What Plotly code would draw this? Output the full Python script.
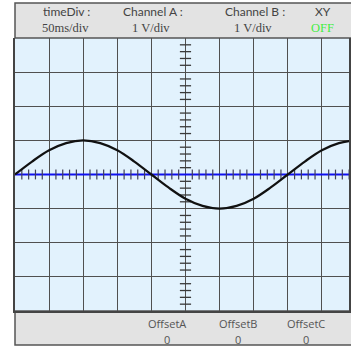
import plotly.graph_objects as go

# time axis (ms), 50 ms per division
time_ms = [0, 25, 50, 75, 100, 125, 150, 175, 200, 225, 250, 275, 300, 325, 350, 375, 400, 425, 450, 475, 500]
# Channel A (V)
channel_a = [0.0, 0.38, 0.71, 0.92, 1.0, 0.92, 0.71, 0.38, 0.0, -0.38, -0.71, -0.92, -1.0, -0.92, -0.71, -0.38, 0.0, 0.38, 0.71, 0.92, 1.0]
# Channel B (V): flat line
channel_b_t = [0, 500]
channel_b = [0.0, 0.0]

header_labels = ["timeDiv :", "Channel A :", "Channel B :", "XY"]
header_values = ["50ms/div", "1 V/div", "1 V/div", "OFF"]
offset_labels = ["OffsetA", "OffsetB", "OffsetC"]
offset_values = ["0", "0", "0"]

W, H = 351, 347
ML, MR, MT, MB = 15, 0, 38, 36
PW = W - ML - MR
PH = H - MT - MB

def px(x):
    return (x - ML) / PW

def py(y):
    return (H - MB - y) / PH

fig = go.Figure()

# minor tick marks on the centre axes
tick_x = [i * 10 for i in range(0, 50) if i % 5 != 0]
tick_y = [i * 0.2 - 4 for i in range(0, 41) if i % 5 != 0]

fig.add_trace(go.Scatter(x=channel_b_t, y=channel_b, mode="lines",
                         line=dict(color="#1010f0", width=2.2), hoverinfo="skip"))
fig.add_trace(go.Scatter(x=tick_x, y=[0] * len(tick_x), mode="markers",
                         marker=dict(symbol="line-ns-open", size=7, color="#404058",
                                     line=dict(color="#404058", width=1.2)),
                         hoverinfo="skip"))
fig.add_trace(go.Scatter(x=[250] * len(tick_y), y=tick_y, mode="markers",
                         marker=dict(symbol="line-ew-open", size=8, color="#3a3a3a",
                                     line=dict(color="#3a3a3a", width=1.3)),
                         hoverinfo="skip"))
fig.add_trace(go.Scatter(x=time_ms, y=channel_a, mode="lines",
                         line=dict(color="#111111", width=2.2, shape="spline"),
                         hoverinfo="skip"))

fig.update_xaxes(range=[0, PW / 34.3 * 50], dtick=50, tick0=0, showgrid=True,
                 gridcolor="#505050", gridwidth=1.4, showticklabels=False,
                 zeroline=False, showline=True, linecolor="#444444", linewidth=1.5,
                 mirror=False, fixedrange=True)
fig.update_yaxes(range=[-4, 4], dtick=1, tick0=0, showgrid=True,
                 gridcolor="#505050", gridwidth=1.4, showticklabels=False,
                 zeroline=False, showline=True, linecolor="#444444", linewidth=1.5,
                 mirror=True, fixedrange=True)

shapes = [
    dict(type="rect", xref="paper", yref="paper", x0=0, x1=1.2, y0=1, y1=py(3),
         fillcolor="#e3e3e3", line=dict(color="#555555", width=1.5), layer="below"),
    dict(type="rect", xref="paper", yref="paper", x0=0, x1=1.2, y0=py(345), y1=0,
         fillcolor="#e3e3e3", line=dict(color="#555555", width=1.5), layer="below"),
]

annotations = []
hx1 = [67, 154, 256, 325]
hx2 = [66, 152, 254, 324]
for i, (lab, val) in enumerate(zip(header_labels, header_values)):
    annotations.append(dict(text=lab, x=px(hx1[i]), y=py(12), xref="paper", yref="paper",
                            showarrow=False, xanchor="center", yanchor="middle",
                            font=dict(family="Lato", size=12, color="#444444")))
    col = "#44ee44" if val == "OFF" else "#444444"
    annotations.append(dict(text=val, x=px(hx2[i]), y=py(28.5),
                            xref="paper", yref="paper", showarrow=False,
                            xanchor="center", yanchor="middle",
                            font=dict(family="Liberation Serif", size=12.5, color=col)))
ox = [168, 239, 308]
for i, (lab, val) in enumerate(zip(offset_labels, offset_values)):
    annotations.append(dict(text=lab, x=px(ox[i]), y=py(323), xref="paper", yref="paper",
                            showarrow=False, xanchor="center", yanchor="middle",
                            font=dict(family="Open Sans", size=11, color="#555555")))
    annotations.append(dict(text=val, x=px(ox[i]), y=py(339), xref="paper", yref="paper",
                            showarrow=False, xanchor="center", yanchor="middle",
                            font=dict(family="Open Sans", size=11, color="#555555")))

fig.update_layout(width=W, height=H, margin=dict(l=ML, r=MR, t=MT, b=MB),
                  paper_bgcolor="white", plot_bgcolor="#e2f2fd",
                  showlegend=False, shapes=shapes, annotations=annotations)

fig.write_html("out.html", config={"displayModeBar": False},
               post_script="document.body.style.margin='0px';document.body.style.overflow='hidden';")
